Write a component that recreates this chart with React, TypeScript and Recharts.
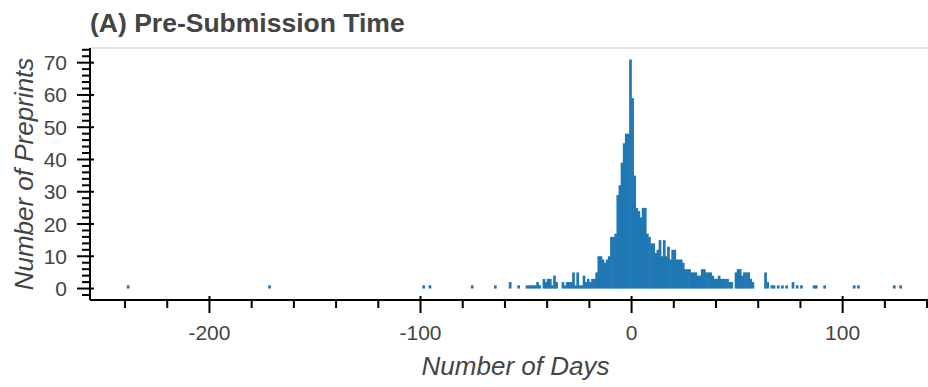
import React from "react";
import { BarChart, Bar, XAxis, YAxis, ReferenceLine } from "recharts";

// preprint counts per day bin, bins are [day, day + 1)
const coreStart = -50;
const coreCounts = [
  1, 1, 1, 1, 1, 2, 1, 0, 3, 2, // -50 .. -41
  3, 3, 1, 4, 2, 0, 0, 2, 1, 2, // -40 .. -31
  2, 2, 5, 1, 5, 1, 1, 4, 2, 3, // -30 .. -21
  2, 3, 3, 5, 10, 10, 9, 8, 9, 10, // -20 .. -11
  16, 16, 17, 29, 32, 39, 45, 48, 48, 71, // -10 .. -1
  59, 35, 25, 24, 22, 25, 25, 17, 16, 14, // 0 .. 9
  14, 11, 12, 15, 10, 15, 10, 13, 9, 12, // 10 .. 19
  12, 9, 9, 9, 8, 6, 6, 6, 5, 5, // 20 .. 29
  5, 4, 4, 6, 6, 5, 5, 5, 4, 3, // 30 .. 39
  3, 4, 3, 3, 3, 3, 2, 2, 0, 5, // 40 .. 49
  6, 6, 4, 5, 5, 5, 3, 2, 0, 0, // 50 .. 59
  0, 0, 0, 5, 2, // 60 .. 64
];

// scattered days far from submission
const outlierDays = [
  -239, -172, -99, -96, -76, -65, -58, -54,
  66, 67, 69, 71, 73, 76, 78, 80, 86, 87, 91, 105, 107, 124, 127,
];
const outlierCounts = [
  1, 1, 1, 1, 1, 1, 2, 1,
  1, 1, 1, 1, 1, 2, 1, 1, 1, 1, 1, 1, 1, 1, 1,
];

const xLabelled = [-200, -100, 0, 100];
const yLabelled = [0, 10, 20, 30, 40, 50, 60, 70];

const xDomain: [number, number] = [-256.6, 146.6];
const yDomain: [number, number] = [-3.55, 74.55];

const xTicks: number[] = [];
for (let v = -240; v <= 140; v += 20) xTicks.push(v);
const yTicks: number[] = [];
for (let v = -2; v <= 74; v += 2) yTicks.push(v);

const bins = [
  ...coreCounts.map((count, i) => ({ day: coreStart + i + 0.5, count })),
  ...outlierDays.map((d, i) => ({ day: d + 0.5, count: outlierCounts[i] })),
]
  .filter((b) => b.count > 0)
  .sort((a, b) => a.day - b.day);

const FONT = "'Liberation Sans', Arial, Helvetica, sans-serif";
const TEXT = "#444";
const BLUE = "#1f77b4";

const XTick = ({ x, y, payload }: any) => {
  const major = xLabelled.includes(payload.value);
  return (
    <g>
      <line
        x1={x}
        x2={x}
        y1={major ? y - 4 : y}
        y2={major ? y + 13 : y + 8}
        stroke="#000"
        strokeWidth={2}
      />
      {major && (
        <text x={x} y={y + 40} textAnchor="middle" fill={TEXT} fontSize={21} fontFamily={FONT}>
          {payload.value}
        </text>
      )}
    </g>
  );
};

const YTick = ({ x, y, payload }: any) => {
  const major = yLabelled.includes(payload.value);
  return (
    <g>
      <line
        x1={major ? x - 13 : x - 8}
        x2={major ? x + 4 : x}
        y1={y}
        y2={y}
        stroke="#000"
        strokeWidth={2}
      />
      {major && (
        <text x={x - 23} y={y + 7.5} textAnchor="end" fill={TEXT} fontSize={21} fontFamily={FONT}>
          {payload.value}
        </text>
      )}
    </g>
  );
};

const YTitle = ({ viewBox }: any) => {
  const cy = viewBox ? viewBox.y + viewBox.height / 2 : 174;
  const cx = 24;
  return (
    <text
      x={cx}
      y={cy}
      transform={`rotate(-90, ${cx}, ${cy})`}
      textAnchor="middle"
      dy={9}
      fill={TEXT}
      fontSize={26}
      fontStyle="italic"
      fontFamily={FONT}
    >
      Number of Preprints
    </text>
  );
};

// day bars slightly widened so neighbouring bins join without seams
const BinBar = ({ x, y, width, height }: any) => {
  if (!height || height <= 0) return null;
  return <rect x={x - 0.35} y={y} width={width + 0.7} height={height} fill={BLUE} />;
};

export default function App() {
  return (
    <div
      style={{
        position: "absolute",
        left: 0,
        top: 0,
        width: 928,
        height: 387,
        overflow: "hidden",
        background: "#fff",
        fontFamily: FONT,
      }}
    >
      <div
        style={{
          position: "absolute",
          left: 90,
          top: 10,
          fontSize: 26.5,
          lineHeight: "27px",
          fontWeight: "bold",
          color: TEXT,
          whiteSpace: "nowrap",
        }}
      >
        (A) Pre-Submission Time
      </div>
      <BarChart
        width={960}
        height={387}
        data={bins}
        margin={{ top: 48, right: 19, bottom: 0, left: 0 }}
      >
        <XAxis
          dataKey="day"
          type="number"
          domain={xDomain}
          allowDataOverflow
          ticks={xTicks}
          interval={0}
          tickLine={false}
          tickSize={0}
          tickMargin={0}
          height={87}
          axisLine={{ stroke: "#000", strokeWidth: 2 }}
          tick={<XTick />}
          label={{
            value: "Number of Days",
            position: "insideBottom",
            offset: 12,
            fill: TEXT,
            fontSize: 26,
            fontStyle: "italic",
            fontFamily: FONT,
          }}
        />
        <YAxis
          type="number"
          domain={yDomain}
          allowDataOverflow
          ticks={yTicks}
          interval={0}
          width={90}
          tickLine={false}
          tickSize={0}
          tickMargin={0}
          axisLine={{ stroke: "#000", strokeWidth: 2 }}
          tick={<YTick />}
          label={<YTitle />}
        />
        <ReferenceLine y={yDomain[1]} stroke="#e5e5e5" strokeWidth={2} />
        <Bar
          dataKey="count"
          fill={BLUE}
          barSize={2}
          shape={<BinBar />}
          isAnimationActive={false}
        />
      </BarChart>
    </div>
  );
}
